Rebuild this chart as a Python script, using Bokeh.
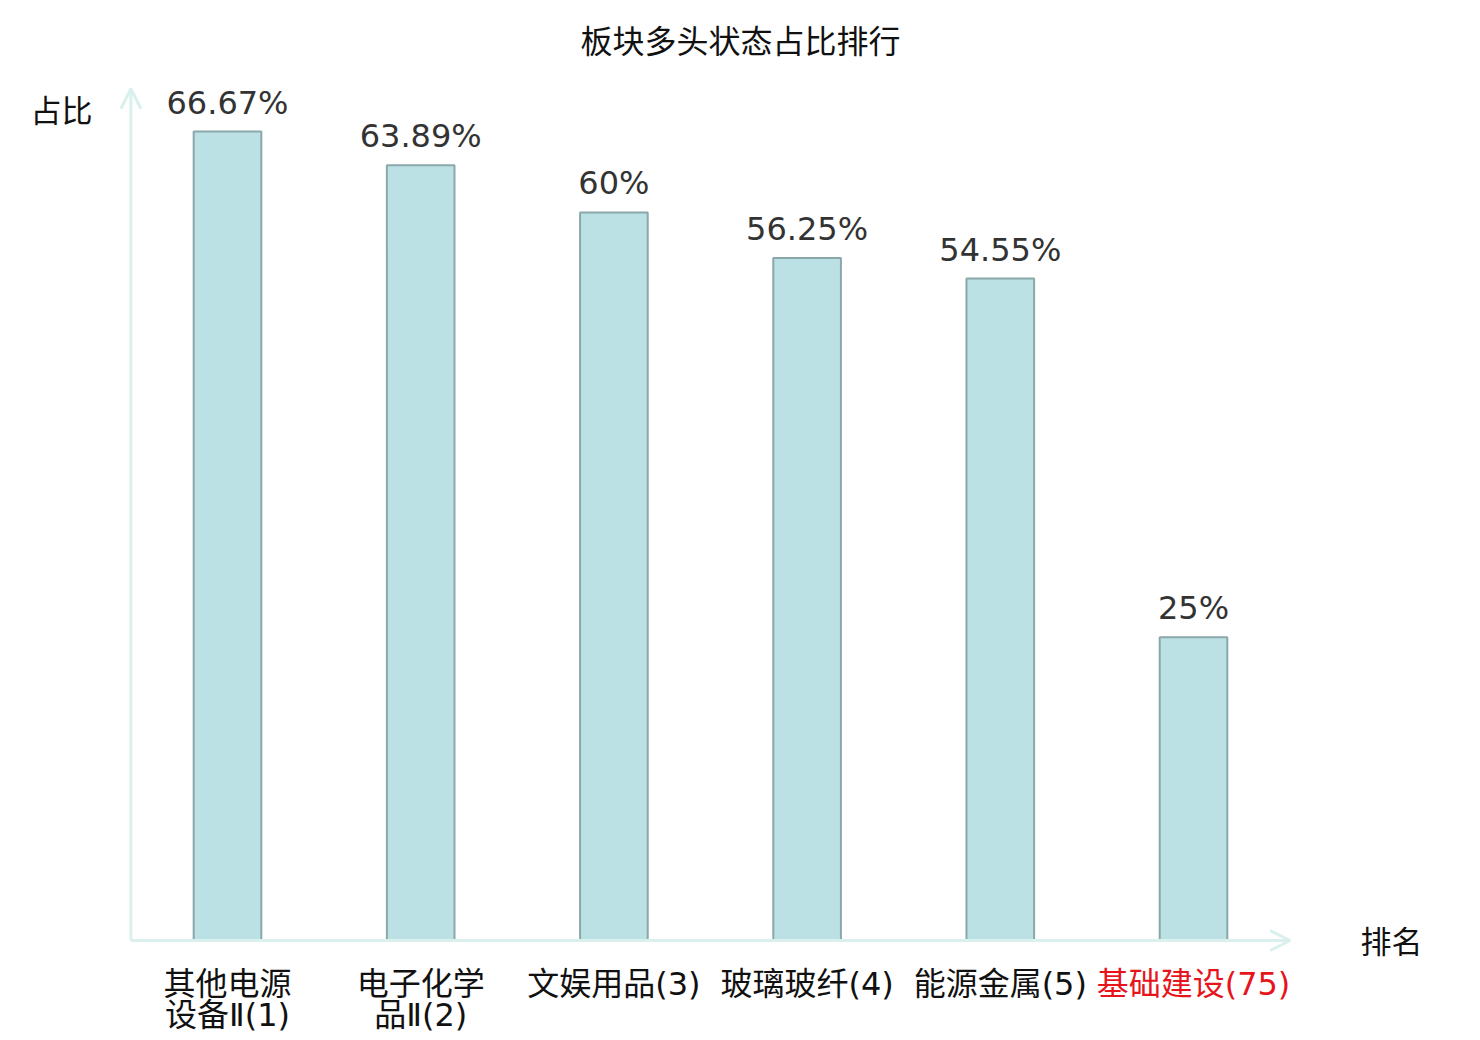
from bokeh.plotting import figure
from bokeh.models import Range1d, ColumnDataSource, Arrow, OpenHead, Label
from bokeh.core.properties import value
from bokeh.embed import file_html
from bokeh.resources import INLINE

categories = ["其他电源\n设备Ⅱ(1)", "电子化学\n品Ⅱ(2)", "文娱用品(3)", "玻璃玻纤(4)", "能源金属(5)", "基础建设(75)"]
values = [66.67, 63.89, 60, 56.25, 54.55, 25]
value_labels = ["66.67%", "63.89%", "60%", "56.25%", "54.55%", "25%"]
label_colors = ["#111111", "#111111", "#111111", "#111111", "#111111", "#e8141c"]
title_text = "板块多头状态占比排行"
y_name = "占比"
x_name = "排名"

xs = list(range(len(categories)))
src = ColumnDataSource(dict(x=xs, top=values, vlab=value_labels, cat=categories, col=label_colors))

p = figure(width=1480, height=1040, output_backend="svg", toolbar_location=None,
           x_range=Range1d(-1.1749, 6.4855), y_range=Range1d(-8.241, 77.47),
           x_axis_type=None, y_axis_type=None, min_border=0)
p.outline_line_color = None
p.xgrid.visible = False
p.ygrid.visible = False

axis_col = "#d9f0ed"
p.add_layout(Arrow(end=OpenHead(size=20, line_color=axis_col, line_width=3),
                   x_start=-0.5, y_start=0, x_end=5.5, y_end=0,
                   line_color=axis_col, line_width=3))
p.add_layout(Arrow(end=OpenHead(size=20, line_color=axis_col, line_width=3),
                   x_start=-0.5, y_start=0, x_end=-0.5, y_end=70.2,
                   line_color=axis_col, line_width=3))

p.vbar(x="x", top="top", bottom=0, width=0.35, source=src,
       fill_color="#bce1e4", line_color="#8aa8aa", line_width=2)

p.text(x="x", y="top", text="vlab", source=src, text_align="center", text_baseline="bottom",
       y_offset=-10, text_font=value("DejaVu Sans"), text_font_size="32px", text_color="#333333")

p.text(x="x", y=0, text="cat", source=src, text_align="center", text_baseline="top",
       y_offset=24, text_font=value("DejaVu Sans, Noto Sans CJK SC"), text_font_size="32px",
       text_color="col", text_line_height=0.84)

p.add_layout(Label(x=2.655, y=74.26, text=title_text, text_align="center", text_baseline="middle",
                   text_font="Noto Sans CJK SC", text_font_size="32px", text_color="#111111"))
p.add_layout(Label(x=-0.859, y=68.57, text=y_name, text_align="center", text_baseline="middle",
                   text_font="Noto Sans CJK SC", text_font_size="31px", text_color="#111111"))
p.add_layout(Label(x=6.025, y=0.08, text=x_name, text_align="center", text_baseline="middle",
                   text_font="Noto Sans CJK SC", text_font_size="31px", text_color="#111111"))

open("out.html", "w").write(file_html(p, INLINE))
